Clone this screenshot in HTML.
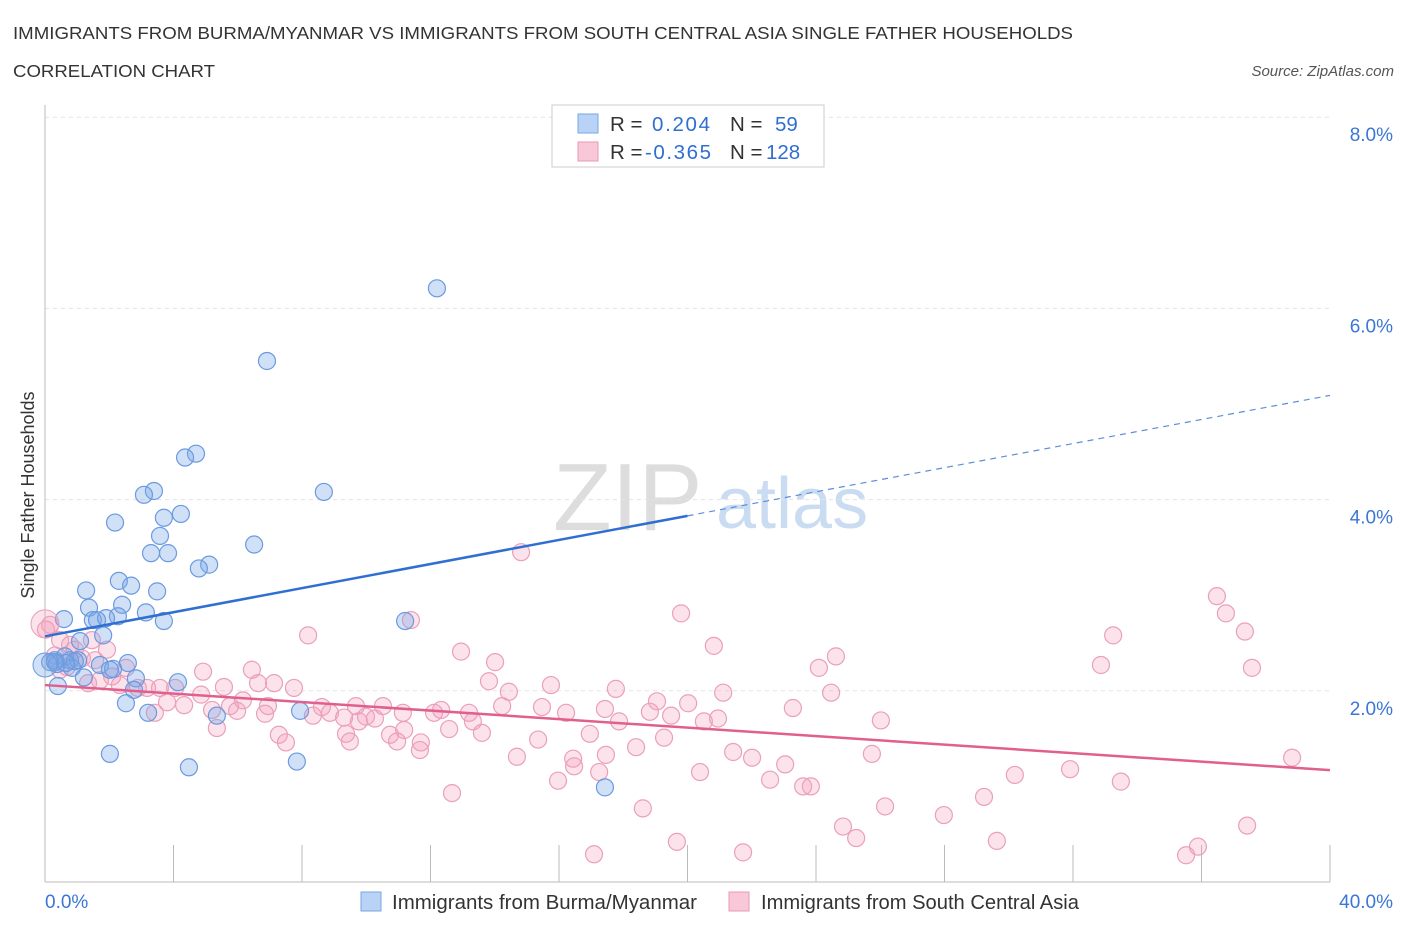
<!DOCTYPE html>
<html><head><meta charset="utf-8"><style>
body{margin:0;background:#fff;font-family:"Liberation Sans",sans-serif}
svg text{font-family:"Liberation Sans",sans-serif}
</style></head><body>
<svg id="chart" width="1406" height="930" xmlns="http://www.w3.org/2000/svg">
<text x="13" y="39" font-size="17.5" fill="#333" textLength="1060" lengthAdjust="spacingAndGlyphs">IMMIGRANTS FROM BURMA/MYANMAR VS IMMIGRANTS FROM SOUTH CENTRAL ASIA SINGLE FATHER HOUSEHOLDS</text>
<text x="13" y="77" font-size="17.5" fill="#333" textLength="202" lengthAdjust="spacingAndGlyphs">CORRELATION CHART</text>
<text x="1394" y="76" font-size="15" fill="#555" font-style="italic" text-anchor="end">Source: ZipAtlas.com</text>
<g>
<text x="553" y="530" font-size="96" fill="#ddd" font-family="Liberation Serif,serif">ZIP</text>
<text x="716" y="528" font-size="72" fill="#c9dcf2">atlas</text>
</g>
<g id="grid"></g>
<g id="axes"></g>
<g id="marks"></g>
<g>
<rect x="552" y="105" width="272" height="62" fill="#fff" stroke="#ccc"/>
<rect x="578" y="114" width="20" height="19" fill="#b9d3f7" stroke="#7aa6e3"/>
<text x="610" y="131" font-size="20.5" fill="#333">R =</text>
<text x="652" y="131" font-size="20.5" fill="#2f6fd1" textLength="58">0.204</text>
<text x="730" y="131" font-size="20.5" fill="#333">N =</text>
<text x="775" y="131" font-size="20.5" fill="#2f6fd1">59</text>
<rect x="578" y="142" width="20" height="19" fill="#f8c8d8" stroke="#e99ab5"/>
<text x="610" y="159" font-size="20.5" fill="#333">R =</text>
<text x="645" y="159" font-size="20.5" fill="#2f6fd1" textLength="66">-0.365</text>
<text x="730" y="159" font-size="20.5" fill="#333">N =</text>
<text x="766" y="159" font-size="20.5" fill="#2f6fd1">128</text>
</g>
<g>
<rect x="361" y="892" width="20" height="19" fill="#b9d3f7" stroke="#7aa6e3"/>
<text x="392" y="909" font-size="20" fill="#333" textLength="305" lengthAdjust="spacingAndGlyphs">Immigrants from Burma/Myanmar</text>
<rect x="729" y="892" width="20" height="19" fill="#f8c8d8" stroke="#e99ab5"/>
<text x="761" y="909" font-size="20" fill="#333" textLength="318" lengthAdjust="spacingAndGlyphs">Immigrants from South Central Asia</text>
</g>
<text transform="translate(34,495) rotate(-90)" font-size="18" fill="#333" text-anchor="middle">Single Father Households</text>
</svg>
<script>
const yTicks=[2,4,6,8];
const yTickLabels=["2.0%","4.0%","6.0%","8.0%"];
const xTickLabels=["0.0%","40.0%"];
const blueLine=[[0,2.57],[20,3.83],[40,5.09]];
const pinkLine=[[0,2.06],[40,1.17]];
const bluePx=[[437,288],[267,361],[196,454],[185,458],[324,492],[154,491],[144,495],[181,514],[164,518],[115,523],[160,536],[254,545],[151,553],[168,553],[209,565],[199,568],[119,581],[131,586],[86,590],[157,591],[122,605],[89,608],[146,612],[118,616],[93,620],[106,618],[64,619],[97,620],[164,621],[405,621],[103,635],[80,641],[55,660],[50,662],[57,664],[70,660],[78,660],[65,656],[100,665],[128,663],[113,669],[72,668],[75,661],[110,670],[136,678],[84,677],[178,682],[134,690],[58,686],[126,703],[148,713],[300,711],[217,716],[110,754],[189,767],[297,762],[605,787],[66,663],[55,662]];
const pinkPx=[[521,552],[681,613],[1217,596],[1226,613],[411,620],[308,635],[1113,635],[1245,632],[714,646],[461,652],[836,656],[495,662],[1101,665],[819,668],[1252,668],[203,672],[252,670],[489,681],[274,683],[551,685],[616,689],[723,693],[831,693],[509,692],[294,688],[224,687],[147,688],[160,688],[175,688],[258,683],[201,695],[243,700],[167,702],[184,705],[657,701],[688,703],[542,707],[441,710],[605,709],[230,706],[268,706],[322,707],[383,706],[356,706],[650,712],[469,713],[793,708],[434,713],[502,706],[566,713],[619,721],[704,721],[718,719],[671,716],[881,720],[212,710],[237,711],[265,714],[313,716],[330,713],[366,717],[375,719],[344,718],[404,730],[473,721],[403,713],[217,728],[155,713],[359,721],[449,729],[482,733],[279,735],[346,734],[390,735],[350,741],[286,742],[397,741],[421,742],[538,740],[664,738],[590,734],[636,747],[420,750],[517,757],[733,752],[606,755],[573,759],[752,758],[872,754],[785,764],[574,766],[700,772],[599,772],[1015,775],[1070,769],[770,780],[803,786],[811,786],[1121,782],[558,781],[984,797],[452,793],[885,806],[643,808],[944,815],[843,827],[856,838],[1247,826],[677,842],[997,841],[1198,847],[594,854],[743,852],[1186,855],[1292,758],[50,625],[60,640],[70,645],[55,655],[82,658],[95,660],[67,667],[88,683],[100,680],[112,676],[120,685],[138,688],[126,668],[107,650],[75,650],[92,640],[60,670],[46,630]];
const blueX=bluePx.map(p=>+((p[0]-45)/32.125).toFixed(2));
const blueY=bluePx.map(p=>+((882-p[1])/95.6).toFixed(2));
const pinkX=pinkPx.map(p=>+((p[0]-45)/32.125).toFixed(2));
const pinkY=pinkPx.map(p=>+((882-p[1])/95.6).toFixed(2));

const NS="http://www.w3.org/2000/svg";
const xs=v=>45+v*32.125, ys=v=>882-v*95.6;
function mk(t,a,parent){const e=document.createElementNS(NS,t);for(const k in a)e.setAttribute(k,a[k]);parent.appendChild(e);return e;}
const grid=document.getElementById('grid'),axes=document.getElementById('axes'),marks=document.getElementById('marks');
yTicks.forEach((t,i)=>{
 const l=mk('line',{x1:45,x2:1330,y1:ys(t),y2:ys(t),stroke:'#e3e3e3','stroke-dasharray':'4,4'},grid);
 
 
 const tx=mk('text',{x:1393,y:ys(t)+24,'font-size':19,fill:'#3b76d6','text-anchor':'end'},axes);
 tx.textContent=yTickLabels[i];
 
 
});
const ax=mk('line',{x1:45,x2:45,y1:105,y2:882,stroke:'#bbb'},axes);


const xa=mk('line',{x1:45,x2:1330,y1:882,y2:882,stroke:'#bbb'},axes);


for(let i=0;i<=10;i++){
 const tk=mk('line',{x1:xs(i*4),x2:xs(i*4),y1:845,y2:882,stroke:'#bbb'},axes);
 
 
}
[[0,'start',45],[1,'end',1393]].forEach(([i,a,x])=>{
 const t=mk('text',{x:x,y:908,'font-size':19,fill:'#3b76d6','text-anchor':a},axes);
 t.textContent=xTickLabels[i];
 
 
});
function dots(X,Y,fill,stroke,name){
 X.forEach((x,i)=>{
  const c=mk('circle',{cx:xs(x),cy:ys(Y[i]),r:8.5,fill:fill,stroke:stroke,'stroke-width':1.2},marks);
  
  
 });
}
dots(pinkX,pinkY,'rgba(244,160,190,0.3)','#eaa0ba','point-south-central-asia');
dots(blueX,blueY,'rgba(120,165,230,0.35)','#6a9ae0','point-burma');
const big1=mk('circle',{cx:xs(0),cy:ys(2.7),r:14,fill:'rgba(244,160,190,0.3)',stroke:'#eaa0ba'},marks);


const big2=mk('circle',{cx:xs(0),cy:ys(2.27),r:12,fill:'rgba(120,165,230,0.35)',stroke:'#6a9ae0'},marks);


const bl1=mk('line',{x1:xs(blueLine[0][0]),y1:ys(blueLine[0][1]),x2:xs(blueLine[1][0]),y2:ys(blueLine[1][1]),stroke:'#2f6fd1','stroke-width':2.5},marks);


const bl2=mk('line',{x1:xs(blueLine[1][0]),y1:ys(blueLine[1][1]),x2:xs(blueLine[2][0]),y2:ys(blueLine[2][1]),stroke:'#5b8fd6','stroke-width':1.2,'stroke-dasharray':'6,5'},marks);


const pl=mk('line',{x1:xs(pinkLine[0][0]),y1:ys(pinkLine[0][1]),x2:xs(pinkLine[1][0]),y2:ys(pinkLine[1][1]),stroke:'#e05f8e','stroke-width':2.5},marks);


</script>
</body></html>
